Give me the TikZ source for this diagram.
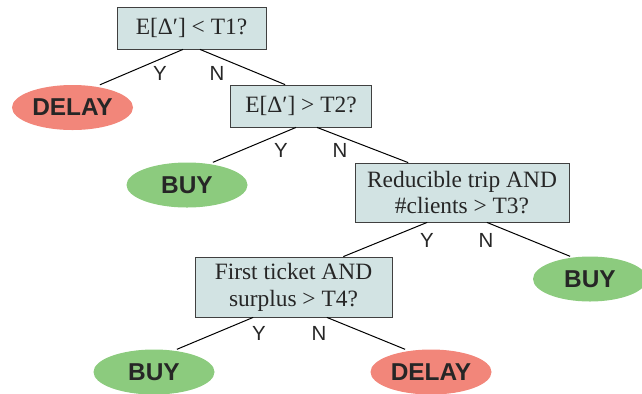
\documentclass[tikz,border=0pt]{standalone}
\usepackage{fontspec}
\setmainfont{Liberation Serif}
\setsansfont{Liberation Sans}
\usetikzlibrary{shapes.geometric}
\definecolor{testfill}{RGB}{210,227,227}
\definecolor{delayred}{RGB}{242,134,122}
\definecolor{buygreen}{RGB}{140,203,126}
\tikzset{test/.style={rectangle,draw=black!75,fill=testfill,line width=0.8bp,align=center,inner xsep=6bp,inner ysep=2bp,text=black!85,font=\fontsize{23.5}{27}\selectfont},
  leaf/.style={ellipse,inner sep=0pt,minimum width=121bp,minimum height=45bp,text=black!85,font=\sffamily\bfseries\fontsize{24.5}{28}\selectfont},
  delay/.style={leaf,fill=delayred},
  buy/.style={leaf,fill=buygreen},
  edge/.style={line width=1bp},
  yn/.style={text=black!85,font=\sffamily\fontsize{20.5}{24}\selectfont}}
\begin{document}
\begin{tikzpicture}[x=1bp,y=-1bp]
\useasboundingbox (0,0) rectangle (642,393);
\node[test, minimum width=149bp, minimum height=42bp] (t1) at (191.5,28) {E[Δ′] < T1?};
\node[delay] (d1) at (72.5,107.5) {DELAY};
\node[test, minimum width=141bp, minimum height=42bp] (t2) at (301,106) {E[Δ′] > T2?};
\node[buy] (b1) at (187,185) {BUY};
\node[test, minimum width=214bp, minimum height=59bp] (t3) at (462,192.5) {Reducible trip AND\\\#clients > T3?};
\node[buy, minimum width=114bp] (b2) at (590,279) {BUY};
\node[test, minimum width=197bp, minimum height=60bp] (t4) at (293.5,287) {First ticket AND\\surplus > T4?};
\node[buy] (b3) at (154,372) {BUY};
\node[delay] (d2) at (431,372) {DELAY};
% edges of the tree
\draw[edge] ([xshift=-8.5]t1.south) -- ([xshift=27.5]d1.north);
\draw[edge] ([xshift=8.5]t1.south) -- ([xshift=-16]t2.north);
\draw[edge] ([xshift=-5]t2.south) -- ([xshift=26]b1.north);
\draw[edge] ([xshift=16]t2.south) -- ([xshift=-54]t3.north);
\draw[edge] ([xshift=-35]t3.south) -- ([xshift=50]t4.north);
\draw[edge] ([xshift=25]t3.south) -- ([xshift=-20]b2.north);
\draw[edge] ([xshift=-40.5]t4.south) -- ([xshift=23]b3.north);
\draw[edge] ([xshift=33.5]t4.south) -- ([xshift=-26]d2.north);
% Y / N labels
\node[yn] (y1) at (160,73) {Y};
\node[yn] (n1) at (217,73) {N};
\node[yn] (y2) at (281,150) {Y};
\node[yn] (n2) at (340,150) {N};
\node[yn] (y3) at (427,240) {Y};
\node[yn] (n3) at (486,240) {N};
\node[yn] (y4) at (259,333) {Y};
\node[yn] (n4) at (319,333) {N};
\end{tikzpicture}
\end{document}
